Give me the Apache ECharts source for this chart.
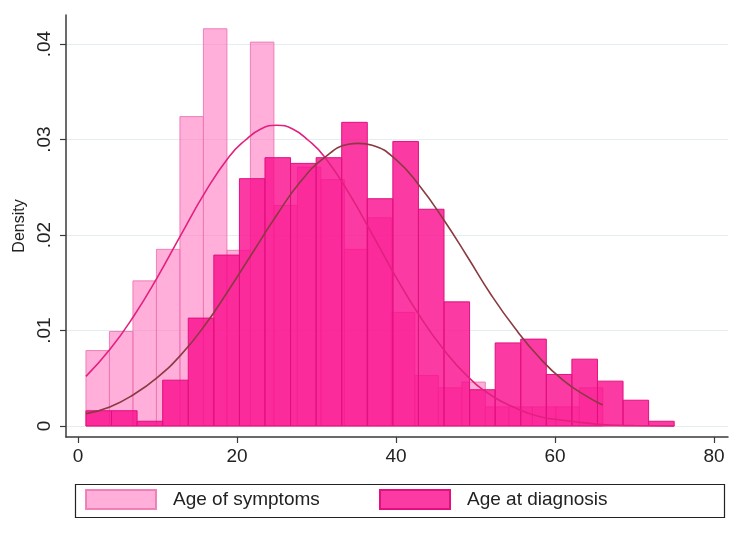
<!DOCTYPE html>
<html>
<head>
<meta charset="utf-8">
<script src="https://cdn.jsdelivr.net/npm/echarts@6/dist/echarts.min.js"></script>
<style>
  html, body { margin: 0; padding: 0; background: #fff; }
  #main { width: 744px; height: 539px; }
</style>
</head>
<body>
<div id="main"></div>
<script>
// histogram bins (density)
var symptomBinStart = 1;
var symptomBinWidth = 2.955;
var symptomDensity = [0.0079, 0.0099, 0.0152, 0.0185, 0.0324, 0.0416, 0.0184, 0.0402, 0.0231, 0.0271, 0.0258,
	0.0185, 0.0218, 0.0119, 0.0053, 0.0040, 0.0046, 0.0020, 0.0020, 0.0020, 0.0020, 0.0040];

var diagnosisBinStart = 1;
var diagnosisBinWidth = 3.217;
var diagnosisDensity = [0.0016, 0.0016, 0.0005, 0.0048, 0.0113, 0.0179, 0.0259, 0.0281, 0.0275, 0.0281, 0.0318,
	0.0238, 0.0298, 0.0227, 0.0130, 0.0038, 0.0087, 0.0091, 0.0054, 0.0070, 0.0047, 0.0027, 0.0005];

// normal density curves
var symptomCurveX = [1, 4, 7, 10, 13, 16, 19, 21, 23, 25, 27, 29, 31, 34, 37, 40, 43, 46, 49, 52, 55, 58, 61, 64, 67, 70, 75];
var symptomCurveY = [0.0052, 0.0080, 0.0115, 0.0156, 0.0201, 0.0245, 0.0282, 0.0299, 0.0311, 0.0315, 0.0311,
	0.0299, 0.0282, 0.0245, 0.0201, 0.0156, 0.0115, 0.0080, 0.0052, 0.0032, 0.0019, 0.0010, 0.0006, 0.0003, 0.0001, 0.00005, 0.0];

var diagnosisCurveX = [1, 4, 7, 10, 13, 16, 19, 22, 25, 28, 31, 34, 35.3, 37, 40, 43, 46, 49, 52, 55, 58, 61, 64, 66];
var diagnosisCurveY = [0.0013, 0.0020, 0.0033, 0.0051, 0.0075, 0.0106, 0.0143, 0.0182, 0.0221, 0.0256, 0.0281,
	0.0295, 0.0296, 0.0294, 0.0279, 0.0251, 0.0216, 0.0177, 0.0137, 0.0102, 0.0072, 0.0048, 0.0031, 0.0022];

var xTicks = [0, 20, 40, 60, 80];
var yTicks = [0, 0.01, 0.02, 0.03, 0.04];

var FONT = 'Liberation Sans, Arial, sans-serif';
var LIGHT = 'rgba(255,110,185,0.55)';
var LIGHT_EDGE = 'rgba(236,120,180,0.9)';
var DARK = 'rgba(250,10,140,0.8)';
var DARK_EDGE = '#e0107e';

function bins(start, width, dens) {
	var out = [];
	for (var i = 0; i < dens.length; i++) {
		out.push([start + i * width, start + (i + 1) * width, dens[i]]);
	}
	return out;
}

function pairs(xs, ys) {
	return xs.map(function (x, i) { return [x, ys[i]]; });
}

function histItem(fill, edge) {
	return function (params, api) {
		var p0 = api.coord([api.value(0), api.value(2)]);
		var p1 = api.coord([api.value(1), 0]);
		return {
			type: 'rect',
			shape: { x: p0[0], y: p0[1], width: p1[0] - p0[0], height: p1[1] - p0[1] },
			style: { fill: fill, stroke: edge, lineWidth: 1 }
		};
	};
}

var chart = echarts.init(document.getElementById('main'));

var legendText = { color: '#222', fontFamily: FONT, fontSize: 19, padding: [0, 0, 0, 12] };

var option = {
	backgroundColor: '#fff',
	animation: false,
	grid: { left: 66, right: 16, top: 15, bottom: 102 },
	xAxis: {
		type: 'value',
		min: -1.51,
		max: 81.76,
		axisLine: { show: true, onZero: false, lineStyle: { color: '#3a3a3a', width: 1.5 } },
		axisTick: { show: true, customValues: xTicks, length: 6, lineStyle: { color: '#3a3a3a', width: 1.2 } },
		axisLabel: { customValues: xTicks, color: '#222', fontFamily: FONT, fontSize: 19, margin: 10 },
		splitLine: { show: false }
	},
	yAxis: {
		type: 'value',
		min: -0.00115,
		max: 0.04304,
		name: 'Density',
		nameLocation: 'middle',
		nameRotate: 90,
		nameGap: 38,
		nameTextStyle: { color: '#222', fontFamily: FONT, fontSize: 16 },
		axisLine: { show: true, onZero: false, lineStyle: { color: '#3a3a3a', width: 1.5 } },
		axisTick: { show: true, customValues: yTicks, length: 6, lineStyle: { color: '#3a3a3a', width: 1.2 } },
		axisLabel: {
			customValues: yTicks,
			rotate: 90,
			margin: 12,
			color: '#222',
			fontFamily: FONT,
			fontSize: 19,
			formatter: function (v) {
				if (v === 0) return '0';
				return '.' + v.toFixed(2).split('.')[1];
			}
		},
		splitLine: { show: true, lineStyle: { color: '#e4edf1', width: 1 } }
	},
	legend: [
		{
			data: [{ name: 'Age of symptoms', icon: 'rect' }],
			left: 85, top: 489, padding: 0,
			itemWidth: 70, itemHeight: 19,
			textStyle: legendText
		},
		{
			data: [{ name: 'Age at diagnosis', icon: 'rect' }],
			left: 379, top: 489, padding: 0,
			itemWidth: 70, itemHeight: 19,
			textStyle: legendText
		}
	],
	graphic: [{
		type: 'rect',
		left: 73, top: 482,
		shape: { width: 649, height: 33 },
		style: { fill: 'none', stroke: '#222', lineWidth: 1.2 },
		silent: true
	}],
	series: [
		{
			name: 'Age of symptoms',
			type: 'custom',
			renderItem: histItem(LIGHT, LIGHT_EDGE),
			itemStyle: { color: LIGHT, borderColor: LIGHT_EDGE, borderWidth: 1 },
			encode: { x: [0, 1], y: 2 },
			data: bins(symptomBinStart, symptomBinWidth, symptomDensity),
			z: 2
		},
		{
			name: 'Age at diagnosis',
			type: 'custom',
			renderItem: histItem(DARK, DARK_EDGE),
			itemStyle: { color: DARK, borderColor: DARK_EDGE, borderWidth: 1 },
			encode: { x: [0, 1], y: 2 },
			data: bins(diagnosisBinStart, diagnosisBinWidth, diagnosisDensity),
			z: 3
		},
		{
			name: 'symptom normal',
			type: 'line',
			smooth: true,
			showSymbol: false,
			lineStyle: { color: '#e3207f', width: 1.6 },
			data: pairs(symptomCurveX, symptomCurveY),
			z: 4
		},
		{
			name: 'diagnosis normal',
			type: 'line',
			smooth: true,
			showSymbol: false,
			lineStyle: { color: '#8a3a40', width: 1.6 },
			data: pairs(diagnosisCurveX, diagnosisCurveY),
			z: 4
		}
	]
};

chart.setOption(option);
</script>
</body>
</html>
